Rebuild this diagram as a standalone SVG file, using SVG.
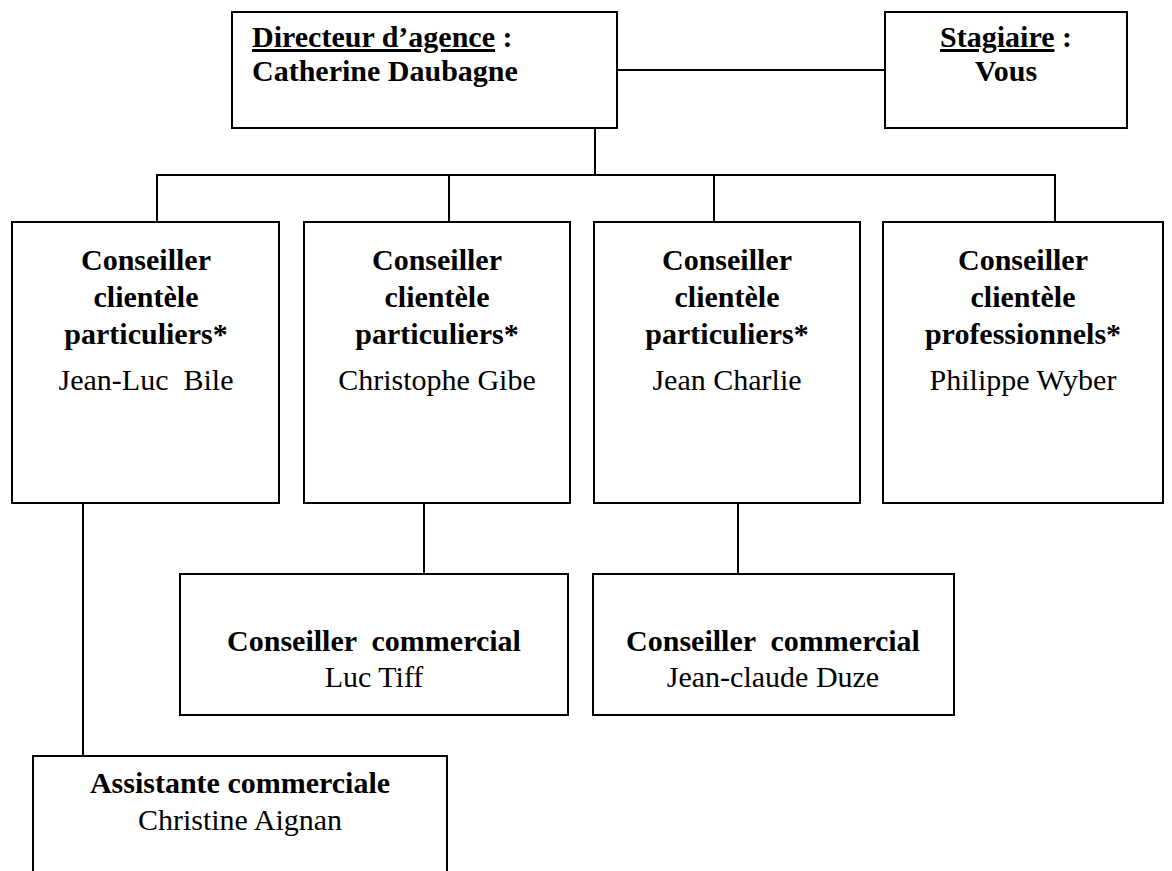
<svg xmlns="http://www.w3.org/2000/svg" width="1172" height="871" viewBox="0 0 1172 871">
<style>
.box{fill:#fff;stroke:#000;stroke-width:2}
.ln{fill:none;stroke:#000;stroke-width:2}
text{font-family:"Liberation Serif","Times New Roman",serif;font-size:30px;fill:#000}
.b{font-weight:bold}
.c{text-anchor:middle}
.u{text-decoration:underline}
</style>
<rect width="1172" height="871" fill="#fff"/>
<g id="connectors">
<line class="ln" x1="617" y1="70" x2="885" y2="70"/>
<line class="ln" x1="595" y1="128" x2="595" y2="175"/>
<polyline class="ln" points="157,222 157,175 1055,175 1055,222"/>
<line class="ln" x1="449" y1="175" x2="449" y2="222"/>
<line class="ln" x1="714" y1="175" x2="714" y2="222"/>
<line class="ln" x1="424" y1="503" x2="424" y2="574"/>
<line class="ln" x1="738" y1="503" x2="738" y2="574"/>
<line class="ln" x1="83" y1="503" x2="83" y2="756"/>
</g>
<g id="directeur">
<rect class="box" x="232" y="12" width="385" height="116"/>
<text class="b" x="252" y="47"><tspan class="u">Directeur d’agence</tspan> :</text>
<text class="b" x="252" y="81">Catherine Daubagne</text>
</g>
<g id="stagiaire">
<rect class="box" x="885" y="12" width="242" height="116"/>
<text class="b c" x="1006" y="47"><tspan class="u">Stagiaire</tspan> :</text>
<text class="b c" x="1006" y="81">Vous</text>
</g>
<g id="bile">
<rect class="box" x="12" y="222" width="267" height="281"/>
<text class="b c" x="146" y="270">Conseiller</text>
<text class="b c" x="146" y="307">clientèle</text>
<text class="b c" x="146" y="344">particuliers*</text>
<text class="c" x="146" y="390" xml:space="preserve">Jean-Luc  Bile</text>
</g>
<g id="gibe">
<rect class="box" x="304" y="222" width="266" height="281"/>
<text class="b c" x="437" y="270">Conseiller</text>
<text class="b c" x="437" y="307">clientèle</text>
<text class="b c" x="437" y="344">particuliers*</text>
<text class="c" x="437" y="390">Christophe Gibe</text>
</g>
<g id="charlie">
<rect class="box" x="594" y="222" width="266" height="281"/>
<text class="b c" x="727" y="270">Conseiller</text>
<text class="b c" x="727" y="307">clientèle</text>
<text class="b c" x="727" y="344">particuliers*</text>
<text class="c" x="727" y="390">Jean Charlie</text>
</g>
<g id="wyber">
<rect class="box" x="883" y="222" width="280" height="281"/>
<text class="b c" x="1023" y="270">Conseiller</text>
<text class="b c" x="1023" y="307">clientèle</text>
<text class="b c" x="1023" y="344">professionnels*</text>
<text class="c" x="1023" y="390">Philippe Wyber</text>
</g>
<g id="tiff">
<rect class="box" x="180" y="574" width="388" height="141"/>
<text class="b c" x="374" y="651" xml:space="preserve">Conseiller  commercial</text>
<text class="c" x="374" y="687">Luc Tiff</text>
</g>
<g id="duze">
<rect class="box" x="593" y="574" width="361" height="141"/>
<text class="b c" x="773" y="651" xml:space="preserve">Conseiller  commercial</text>
<text class="c" x="773" y="687">Jean-claude Duze</text>
</g>
<g id="aignan">
<rect class="box" x="33" y="756" width="414" height="130"/>
<text class="b c" x="240" y="793">Assistante commerciale</text>
<text class="c" x="240" y="830">Christine Aignan</text>
</g>
</svg>
